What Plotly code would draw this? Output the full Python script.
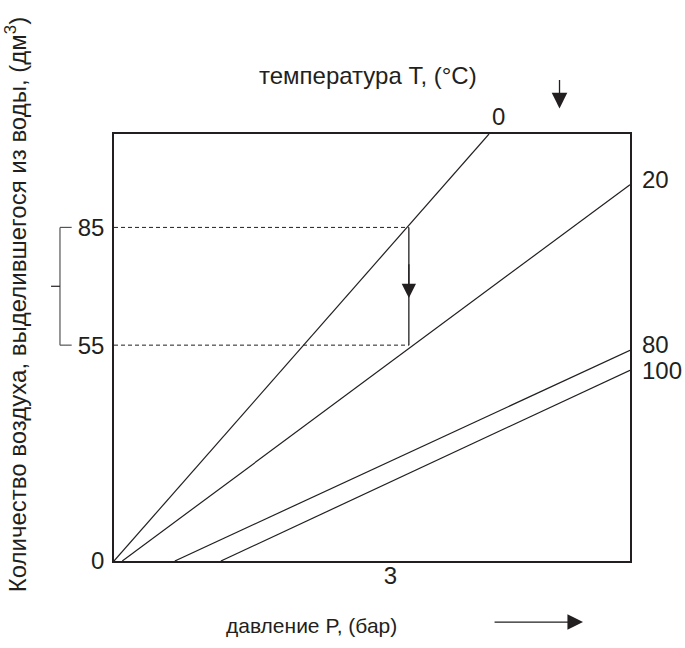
import plotly.graph_objects as go

# Isotherms: released air volume vs pressure, one straight line per water temperature
temperatures = ["0", "20", "80", "100"]
p_start = [0.0, 0.09, 0.66, 1.16]      # pressure where the line leaves the axis, bar
p_end = [4.07, 5.6, 5.6, 5.6]          # pressure at the upper end of the line, bar
v_end = [108.8, 95.9, 53.7, 48.6]      # volume at the upper end of the line, dm3

# Worked example: cooling from 0 °C to 20 °C at constant pressure
p_example = 3.2
v_high = 85
v_low = 55

x_ticks = [3]
y_ticks = [0, 55, 85]

ink = "#231f20"
font_family = "Liberation Sans, Arial, Helvetica, sans-serif"

fig = go.Figure()

for t, p0, p1, v1 in zip(temperatures, p_start, p_end, v_end):
    fig.add_trace(go.Scatter(
        x=[p0, p1], y=[0, v1], mode="lines",
        line=dict(color=ink, width=1.2), name=t,
        showlegend=False, hoverinfo="skip", cliponaxis=False,
    ))

# dashed read-off lines for the two volumes
for v in (v_high, v_low):
    fig.add_trace(go.Scatter(
        x=[0, p_example], y=[v, v], mode="lines",
        line=dict(color=ink, width=1, dash="4px,3px"),
        showlegend=False, hoverinfo="skip",
    ))

# vertical drop between the two isotherms
fig.add_trace(go.Scatter(
    x=[p_example, p_example], y=[v_high, v_low], mode="lines",
    line=dict(color=ink, width=1.3),
    showlegend=False, hoverinfo="skip",
))

annotations = []

# arrowhead in the middle of the vertical drop
v_mid = (v_high + v_low) / 2
annotations.append(dict(
    x=p_example, y=v_mid - 3, xref="x", yref="y",
    ax=p_example, ay=v_mid + 6, axref="x", ayref="y",
    showarrow=True, arrowhead=2, arrowsize=2.2, arrowwidth=1.3,
    arrowcolor=ink, text="",
))

# temperature labels at the line ends
label_font = dict(family=font_family, size=24, color=ink)
annotations.append(dict(
    x=p_end[0], y=v_end[0], xref="x", yref="y", text=temperatures[0],
    showarrow=False, xanchor="center", yanchor="bottom",
    xshift=9, yshift=2, font=label_font,
))
for t, p1, v1, dy in zip(temperatures[1:], p_end[1:], v_end[1:], [5, 6, 0]):
    annotations.append(dict(
        x=p1, y=v1, xref="x", yref="y", text=t,
        showarrow=False, xanchor="left", yanchor="middle",
        xshift=10, yshift=dy, font=label_font,
    ))

# temperature heading with a downward arrow
annotations.append(dict(
    x=0.492, y=1.138, xref="paper", yref="paper",
    text="температура T, (°C)", showarrow=False,
    xanchor="center", yanchor="middle",
    font=dict(family=font_family, size=24, color=ink),
))
annotations.append(dict(
    x=0.8634, y=1.060, xref="paper", yref="paper",
    ax=0, ay=-30, showarrow=True, arrowhead=2, arrowsize=2.4,
    arrowwidth=1.3, arrowcolor=ink, text="",
))

# pressure heading with a rightward arrow
annotations.append(dict(
    x=0.382, y=-0.152, xref="paper", yref="paper",
    text="давление P, (бар)", showarrow=False,
    xanchor="center", yanchor="middle",
    font=dict(family=font_family, size=21, color=ink),
))
annotations.append(dict(
    x=0.909, y=-0.143, xref="paper", yref="paper",
    ax=-90, ay=0, showarrow=True, arrowhead=2, arrowsize=2.4,
    arrowwidth=1.3, arrowcolor=ink, text="",
))

# volume heading, vertical
annotations.append(dict(
    x=-0.191, y=0.600, xref="paper", yref="paper",
    text="Количество воздуха, выделившегося из воды, (дм<sup>3</sup>)",
    textangle=-90, showarrow=False,
    xanchor="center", yanchor="middle",
    font=dict(family=font_family, size=24, color=ink),
))

# bracket grouping the two volume labels
shapes = [
    dict(type="line", xref="paper", yref="y", x0=-0.1047, x1=-0.1047,
         y0=v_low, y1=v_high, line=dict(color="#555", width=1.2)),
    dict(type="line", xref="paper", yref="y", x0=-0.1047, x1=-0.082,
         y0=v_high, y1=v_high, line=dict(color="#555", width=1.2)),
    dict(type="line", xref="paper", yref="y", x0=-0.1047, x1=-0.082,
         y0=v_low, y1=v_low, line=dict(color="#555", width=1.2)),
    dict(type="line", xref="paper", yref="y", x0=-0.122, x1=-0.1047,
         y0=v_mid, y1=v_mid, line=dict(color=ink, width=1.2)),
]

tick_font = dict(family=font_family, size=24, color=ink)

fig.update_layout(
    width=685, height=648,
    margin=dict(l=114, r=55, t=134, b=87),
    paper_bgcolor="white", plot_bgcolor="white",
    showlegend=False,
    annotations=annotations,
    shapes=shapes,
    xaxis=dict(
        range=[0, 5.6], tickvals=x_ticks, ticktext=[str(v) for v in x_ticks],
        showgrid=False, zeroline=False, ticks="",
        showline=True, linecolor=ink, linewidth=1.5, mirror=True,
        tickfont=tick_font, ticklabelstandoff=-8,
    ),
    yaxis=dict(
        range=[0, 108.8], tickvals=y_ticks, ticktext=[str(v) for v in y_ticks],
        showgrid=False, zeroline=False, ticks="",
        showline=True, linecolor=ink, linewidth=1.5, mirror=True,
        tickfont=tick_font, ticklabelstandoff=3,
    ),
)

fig.write_html("out.html")
